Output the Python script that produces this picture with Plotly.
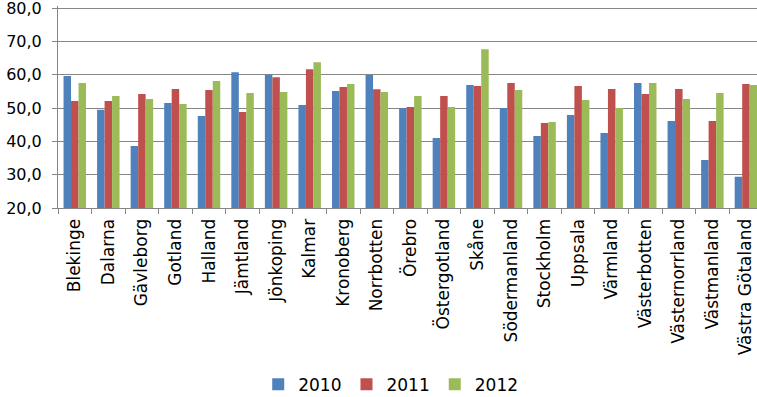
import plotly.graph_objects as go

categories = ["Blekinge", "Dalarna", "Gävleborg", "Gotland", "Halland", "Jämtland",
              "Jönkoping", "Kalmar", "Kronoberg", "Norrbotten", "Örebro", "Östergotland",
              "Skåne", "Södermanland", "Stockholm", "Uppsala", "Värmland", "Västerbotten",
              "Västernorrland", "Västmanland", "Västra Götaland"]
v2010 = [59.6, 49.5, 38.6, 51.5, 47.6, 60.7, 60.0, 50.9, 55.1, 59.9, 49.9, 41.0,
         56.9, 50.0, 41.6, 47.9, 42.5, 57.5, 46.1, 34.4, 29.4]
v2011 = [52.1, 52.1, 54.2, 55.7, 55.4, 48.8, 59.2, 61.6, 56.3, 55.6, 50.3, 53.6,
         56.6, 57.5, 45.5, 56.6, 55.7, 54.2, 55.7, 46.1, 57.2]
v2012 = [57.5, 53.6, 52.7, 51.2, 58.1, 54.5, 54.8, 63.7, 57.2, 54.8, 53.6, 50.3,
         67.6, 55.4, 45.8, 52.4, 50.0, 57.5, 52.7, 54.5, 56.9]
y_ticks = [20, 30, 40, 50, 60, 70, 80]
series_names = ["2010", "2011", "2012"]
colors = ["#4F81BD", "#C0504D", "#9BBB59"]

fig = go.Figure()
for name, vals, col in zip(series_names, [v2010, v2011, v2012], colors):
    fig.add_trace(go.Bar(x=categories, y=vals, name=name, marker_color=col,
                         marker_line_width=0))

font = dict(family="DejaVu Sans", size=17, color="#000000")
yfont = dict(family="DejaVu Sans", size=16, color="#000000")
fig.update_layout(
    width=757, height=397,
    margin=dict(l=58, r=0, t=6, b=189, autoexpand=False),
    paper_bgcolor="white", plot_bgcolor="white",
    barmode="group", bargap=0.33, bargroupgap=0,
    separators=", ",
    font=font,
    showlegend=True,
    legend=dict(orientation="h", x=0.476, xanchor="center", y=-0.875, yanchor="middle",
                font=font, itemwidth=30, traceorder="normal"),
    xaxis=dict(range=[-0.5, 20.33], tickangle=-90, ticks="outside", ticklen=5,
               tickson="boundaries", tickcolor="#868686", showline=True,
               linecolor="#868686", showgrid=False, tickfont=font, automargin=False,
               ticklabelstandoff=3),
    yaxis=dict(range=[20, 80.6], tickmode="array", tickvals=y_ticks, tickformat=".1f",
               ticks="outside", ticklen=5, ticklabeloverflow="allow",
               tickcolor="#868686", showline=True, linecolor="#868686",
               gridcolor="#868686", gridwidth=1, tickfont=yfont, zeroline=False,
               automargin=False, ticklabelstandoff=7),
)
fig.write_html("out.html", post_script="document.body.style.margin='0';",
               config={"displayModeBar": False})
